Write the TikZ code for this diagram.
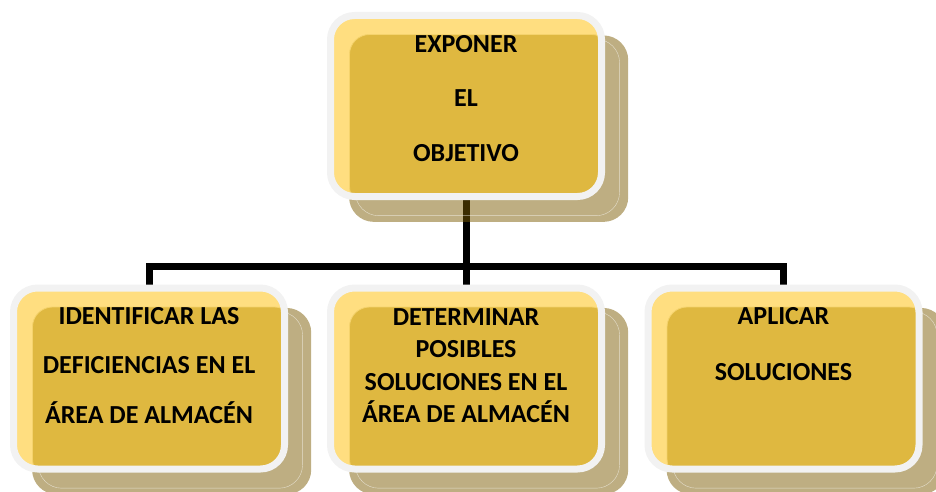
\documentclass[tikz,border=0pt]{standalone}
\usepackage{fontspec}
\setmainfont{Carlito}
\usetikzlibrary{positioning,shadows,backgrounds}
\definecolor{paleyellow}{RGB}{255,222,128}
\definecolor{boxgold}{RGB}{223,184,64}
\definecolor{rimgrey}{RGB}{242,242,242}
\definecolor{shadowbrown}{RGB}{122,90,0}

\begin{document}
\begin{tikzpicture}[x=1pt,y=1pt,line join=miter,
    box/.style={rectangle,rounded corners=24pt,minimum width=271pt,minimum height=181pt,
      inner sep=0pt,fill=paleyellow,draw=rimgrey,line width=7pt,
      general shadow={fill=shadowbrown,opacity=0.49,shadow xshift=22pt,shadow yshift=-22pt,shadow scale=1.03},
      general shadow={draw=white,line width=0.4pt,opacity=0.6,shadow xshift=22pt,shadow yshift=-22pt,shadow scale=0.975},
      path picture={\fill[boxgold,rounded corners=20pt,draw=paleyellow!70!boxgold,line width=0.8pt]
        ([xshift=19pt,yshift=-19pt]path picture bounding box.north west)
        rectangle ([xshift=10pt,yshift=-10pt]path picture bounding box.south east);}},
    boxtext/.style={align=center,inner sep=0pt,font=\bfseries\fontsize{26}{#1}\selectfont},
    link/.style={line width=7pt}]
  \useasboundingbox (0,0) rectangle (936,491);

  % boxes
  \node[box] (objetivo) at (466,385) {};
  \node[box] (deficiencias) at (149,112.5) {};
  \node[box] (soluciones) at (466,112.5) {};
  \node[box] (aplicar) at (783.5,112.5) {};

  % texts
  \node[boxtext=54.5pt,below=23pt of objetivo.north] (objetivotext) {EXPONER\\EL\\OBJETIVO};
  \node[boxtext=49.5pt,below=22.5pt of deficiencias.north] (deficienciastext)
    {IDENTIFICAR LAS\\DEFICIENCIAS EN EL\\ÁREA DE ALMACÉN};
  \node[boxtext=32.5pt,below=23.5pt of soluciones.north] (solucionestext)
    {DETERMINAR\\POSIBLES\\SOLUCIONES EN EL\\ÁREA DE ALMACÉN};
  \node[boxtext=56pt,below=22.5pt of aplicar.north] (aplicartext) {APLICAR\\SOLUCIONES};

  % connectors (behind the shadows)
  \coordinate (split) at (466,225);
  \begin{pgfonlayer}{background}
    \draw[link] (objetivo) -- (soluciones);
    \draw[link] (deficiencias.north) |- (split) -| (aplicar.north);
  \end{pgfonlayer}
\end{tikzpicture}
\end{document}
